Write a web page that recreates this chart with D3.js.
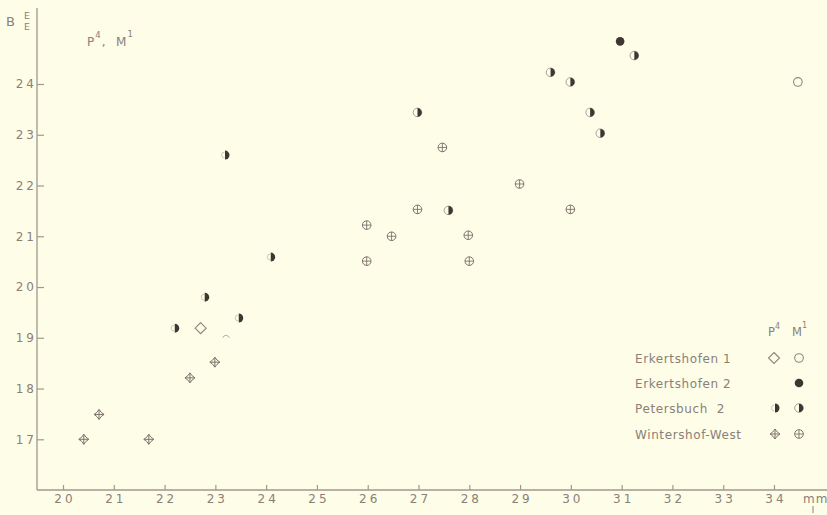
<!DOCTYPE html>
<html>
<head>
<meta charset="utf-8">
<script src="https://cdn.jsdelivr.net/npm/d3@7/dist/d3.min.js"></script>
<style>
  html, body { margin: 0; padding: 0; background: #fefde8; }
  svg { display: block; }
  text { font-family: "DejaVu Sans", sans-serif; fill: #8a8078; white-space: pre; }
</style>
</head>
<body>
<svg id="chart" width="827" height="515"></svg>
<script>
// Tooth dimensions: length (mm, x) against breadth (mm, y) of P4 and M1
const xTicks = [20, 21, 22, 23, 24, 25, 26, 27, 28, 29, 30, 31, 32, 33, 34];
const yTicks = [17, 18, 19, 20, 21, 22, 23, 24];

const erkertshofen1P4 = [[22.71, 19.19]];
const erkertshofen1M1 = [[34.47, 24.04]];
const erkertshofen2M1 = [[30.97, 24.84]];
const petersbuchP4 = [[22.22, 19.19], [22.81, 19.80], [23.48, 19.39], [23.21, 22.60], [24.11, 20.59]];
const petersbuchM1 = [[26.98, 23.44], [27.59, 21.51], [29.60, 24.23], [29.99, 24.04], [30.38, 23.44], [30.58, 23.03], [31.25, 24.56]];
const wintershofP4 = [[20.41, 17.00], [20.71, 17.49], [21.69, 17.00], [22.50, 18.21], [22.99, 18.52]];
const wintershofM1 = [[25.98, 21.22], [25.98, 20.51], [26.47, 21.00], [26.98, 21.53], [27.47, 22.75], [27.98, 21.02], [28.00, 20.51], [28.99, 22.03], [29.99, 21.53]];
// partly erased mark near the P4 cluster
const erasedMarks = [[23.21, 19.04]];

const legendRows = ["Erkertshofen 1", "Erkertshofen 2", "Petersbuch  2", "Wintershof-West"];

const svg = d3.select("#chart");
const ink = "#3f3531";
const grey = "#8a8078";
const axisCol = "#a09890";

const x = d3.scaleLinear().domain([20, 34]).range([63, 774]);
const y = d3.scaleLinear().domain([17, 24]).range([439.3, 84]);

const x0 = 37, yBase = 490;

// axis lines
svg.append("line").attr("x1", x0).attr("x2", x0).attr("y1", 8).attr("y2", yBase)
  .attr("stroke", axisCol).attr("stroke-width", 1.3);
svg.append("line").attr("x1", x0).attr("x2", 827).attr("y1", yBase).attr("y2", yBase)
  .attr("stroke", axisCol).attr("stroke-width", 1.3);

const xAxis = svg.append("g").attr("transform", `translate(0,${yBase})`)
  .call(d3.axisBottom(x).tickValues(xTicks).tickSizeInner(-5).tickSizeOuter(0).tickPadding(4.5)
    .tickFormat(d3.format("d")));
const yAxis = svg.append("g").attr("transform", `translate(${x0},0)`)
  .call(d3.axisLeft(y).tickValues(yTicks).tickSizeInner(-7).tickSizeOuter(0).tickPadding(0)
    .tickFormat(d3.format("d")));

[xAxis, yAxis].forEach(g => {
  g.select(".domain").remove();
  g.selectAll(".tick line").attr("stroke", axisCol).attr("stroke-width", 1.2);
  g.selectAll(".tick text").attr("fill", grey).style("font-size", "12px")
    .style("letter-spacing", "3px").style("font-family", "DejaVu Sans, sans-serif");
});
xAxis.selectAll(".tick text").attr("dx", "1.5px");

// unit label
svg.append("text").attr("x", 803).attr("y", 503).style("font-size", "12px")
  .style("letter-spacing", "1px").text("mm");
svg.append("line").attr("x1", 813).attr("x2", 813).attr("y1", 506).attr("y2", 513)
  .attr("stroke", grey).attr("stroke-width", 1);

// y label
svg.append("text").attr("x", 6).attr("y", 26).style("font-size", "13px").text("B");
svg.append("text").attr("x", 24).attr("y", 19).style("font-size", "9.5px").text("E");
svg.append("text").attr("x", 24).attr("y", 30).style("font-size", "9.5px").text("E");

{
  const t = svg.append("text").attr("x", 87).attr("y", 46).style("font-size", "12px").style("letter-spacing", "1px");
  t.append("tspan").text("P");
  t.append("tspan").attr("dy", -8).style("font-size", "8.5px").text("4");
  t.append("tspan").attr("dy", 8).text(",  M");
  t.append("tspan").attr("dy", -9).style("font-size", "8.5px").text("1");
}

// symbol painters
const R = 4.3;
function openDiamond(g, cx, cy) {
  const s = 5.5;
  g.append("path").attr("d", `M${cx},${cy - s}L${cx + s},${cy}L${cx},${cy + s}L${cx - s},${cy}Z`)
    .attr("fill", "none").attr("stroke", "#8e867f").attr("stroke-width", 1.1);
}
function openCircle(g, cx, cy) {
  g.append("circle").attr("cx", cx).attr("cy", cy).attr("r", R)
    .attr("fill", "none").attr("stroke", "#8e867f").attr("stroke-width", 1.1);
}
function filledCircle(g, cx, cy) {
  g.append("circle").attr("cx", cx).attr("cy", cy).attr("r", R).attr("fill", ink);
}
function halfCircle(g, cx, cy) {
  g.append("circle").attr("cx", cx).attr("cy", cy).attr("r", R)
    .attr("fill", "#fefde8").attr("stroke", "#a8a098").attr("stroke-width", 1);
  g.append("path").attr("d", `M${cx},${cy - R}A${R},${R} 0 0 1 ${cx},${cy + R}Z`).attr("fill", ink);
}
function halfWedge(g, cx, cy) {
  g.append("path").attr("d", `M${cx - 1},${cy - 4.5}A4.5,4.5 0 0 1 ${cx - 1},${cy + 4.5}Z`).attr("fill", ink);
  g.append("path").attr("d", `M${cx - 1.5},${cy - 3}A3,3 0 0 0 ${cx - 1.5},${cy + 3}`)
    .attr("fill", "none").attr("stroke", "#c8c0b8").attr("stroke-width", 0.9);
}
function crossDiamond(g, cx, cy) {
  const s = 5;
  g.append("path").attr("d", `M${cx},${cy - s}Q${cx + s * 0.35},${cy - s * 0.35} ${cx + s},${cy}Q${cx + s * 0.35},${cy + s * 0.35} ${cx},${cy + s}Q${cx - s * 0.35},${cy + s * 0.35} ${cx - s},${cy}Q${cx - s * 0.35},${cy - s * 0.35} ${cx},${cy - s}Z`)
    .attr("fill", "none").attr("stroke", "#7d726b").attr("stroke-width", 1);
  g.append("path").attr("d", `M${cx - s},${cy}H${cx + s}M${cx},${cy - s}V${cy + s}`)
    .attr("stroke", "#7d726b").attr("stroke-width", 1);
}
function crossCircle(g, cx, cy) {
  g.append("circle").attr("cx", cx).attr("cy", cy).attr("r", R)
    .attr("fill", "none").attr("stroke", "#7d726b").attr("stroke-width", 1);
  g.append("path").attr("d", `M${cx - R},${cy}H${cx + R}M${cx},${cy - R}V${cy + R}`)
    .attr("stroke", "#7d726b").attr("stroke-width", 0.9);
}
function erasedArc(g, cx, cy) {
  g.append("path").attr("d", `M${cx - 3.5},${cy + 2}A3.8,3.8 0 0 1 ${cx + 3.5},${cy + 2}`)
    .attr("fill", "none").attr("stroke", "#b8b0a8").attr("stroke-width", 1);
}

const marks = svg.append("g");
function plot(data, painter) {
  data.forEach(d => painter(marks, x(d[0]), y(d[1])));
}
plot(erasedMarks, erasedArc);
plot(wintershofP4, crossDiamond);
plot(wintershofM1, crossCircle);
plot(petersbuchP4, halfWedge);
plot(petersbuchM1, halfCircle);
plot(erkertshofen1P4, openDiamond);
plot(erkertshofen1M1, openCircle);
plot(erkertshofen2M1, filledCircle);

// legend
const lg = svg.append("g");
{
  const t = lg.append("text").attr("x", 768).attr("y", 336).style("font-size", "11.5px");
  t.append("tspan").text("P");
  t.append("tspan").attr("dy", -7).style("font-size", "8px").text("4");
  t.append("tspan").attr("x", 792).attr("dy", 7).text("M");
  t.append("tspan").attr("dy", -8).style("font-size", "8px").text("1");
}
const rowY = [358, 383, 408, 434];
legendRows.forEach((name, i) => {
  lg.append("text").attr("x", 635).attr("y", rowY[i] + 5).style("font-size", "12px")
    .style("letter-spacing", "0.6px").text(name);
});
openDiamond(lg, 774, rowY[0]);
openCircle(lg, 799, rowY[0]);
filledCircle(lg, 799, rowY[1]);
halfWedge(lg, 776, rowY[2]);
halfCircle(lg, 799, rowY[2]);
crossDiamond(lg, 775, rowY[3]);
crossCircle(lg, 799, rowY[3]);
</script>
</body>
</html>
